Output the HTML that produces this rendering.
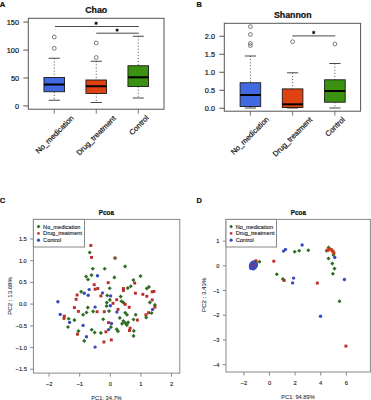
<!DOCTYPE html>
<html><head><meta charset="utf-8"><style>
html,body{margin:0;padding:0;background:#fff;width:371px;height:400px;overflow:hidden}
svg{display:block;font-family:"Liberation Sans", sans-serif}
</style></head><body>
<svg width="371" height="400" viewBox="0 0 371 400">
<rect width="371" height="400" fill="#fff"/>
<rect x="28.3" y="18.3" width="135.7" height="90.9" fill="none" stroke="#555" stroke-width="1.0"/>
<line x1="23.3" y1="22.1" x2="28.3" y2="22.1" stroke="#555" stroke-width="1.0" />
<text x="19.0" y="24.700000000000003" font-size="7.3" text-anchor="end" fill="#1a1a1a" stroke="#1a1a1a" stroke-width="0.22" >150</text>
<line x1="23.3" y1="50.1" x2="28.3" y2="50.1" stroke="#555" stroke-width="1.0" />
<text x="19.0" y="52.7" font-size="7.3" text-anchor="end" fill="#1a1a1a" stroke="#1a1a1a" stroke-width="0.22" >100</text>
<line x1="23.3" y1="78.0" x2="28.3" y2="78.0" stroke="#555" stroke-width="1.0" />
<text x="19.0" y="80.6" font-size="7.3" text-anchor="end" fill="#1a1a1a" stroke="#1a1a1a" stroke-width="0.22" >50</text>
<line x1="23.3" y1="105.9" x2="28.3" y2="105.9" stroke="#555" stroke-width="1.0" />
<text x="19.0" y="108.5" font-size="7.3" text-anchor="end" fill="#1a1a1a" stroke="#1a1a1a" stroke-width="0.22" >0</text>
<line x1="54.25" y1="58.25" x2="54.25" y2="77.5" stroke="#333" stroke-width="0.8" stroke-dasharray="1.1,2"/>
<line x1="54.25" y1="91.75" x2="54.25" y2="100.25" stroke="#333" stroke-width="0.8" stroke-dasharray="1.1,2"/>
<line x1="48.65" y1="58.25" x2="59.85" y2="58.25" stroke="#333" stroke-width="0.9" />
<line x1="48.65" y1="100.25" x2="59.85" y2="100.25" stroke="#333" stroke-width="0.9" />
<rect x="43.95" y="77.5" width="20.6" height="14.25" fill="#4169E1" stroke="#1a1a1a" stroke-width="0.9"/>
<line x1="43.95" y1="84.5" x2="64.55" y2="84.5" stroke="#000" stroke-width="2" />
<circle cx="54.25" cy="37" r="1.9" fill="none" stroke="#444" stroke-width="0.7"/>
<circle cx="54.25" cy="48.25" r="1.9" fill="none" stroke="#444" stroke-width="0.7"/>
<line x1="54.25" y1="109.2" x2="54.25" y2="113.7" stroke="#555" stroke-width="0.8" />
<line x1="96.25" y1="61.25" x2="96.25" y2="80" stroke="#333" stroke-width="0.8" stroke-dasharray="1.1,2"/>
<line x1="96.25" y1="93.5" x2="96.25" y2="102.5" stroke="#333" stroke-width="0.8" stroke-dasharray="1.1,2"/>
<line x1="90.65" y1="61.25" x2="101.85" y2="61.25" stroke="#333" stroke-width="0.9" />
<line x1="90.65" y1="102.5" x2="101.85" y2="102.5" stroke="#333" stroke-width="0.9" />
<rect x="85.95" y="80" width="20.6" height="13.5" fill="#DE4210" stroke="#1a1a1a" stroke-width="0.9"/>
<line x1="85.95" y1="86.25" x2="106.55" y2="86.25" stroke="#000" stroke-width="2" />
<circle cx="96.25" cy="43" r="1.9" fill="none" stroke="#444" stroke-width="0.7"/>
<circle cx="96.25" cy="57.5" r="1.9" fill="none" stroke="#444" stroke-width="0.7"/>
<line x1="96.25" y1="109.2" x2="96.25" y2="113.7" stroke="#555" stroke-width="0.8" />
<line x1="138.25" y1="36.25" x2="138.25" y2="65.75" stroke="#333" stroke-width="0.8" stroke-dasharray="1.1,2"/>
<line x1="138.25" y1="86.5" x2="138.25" y2="98" stroke="#333" stroke-width="0.8" stroke-dasharray="1.1,2"/>
<line x1="132.65" y1="36.25" x2="143.85" y2="36.25" stroke="#333" stroke-width="0.9" />
<line x1="132.65" y1="98" x2="143.85" y2="98" stroke="#333" stroke-width="0.9" />
<rect x="127.95" y="65.75" width="20.6" height="20.75" fill="#3B9210" stroke="#1a1a1a" stroke-width="0.9"/>
<line x1="127.95" y1="77.3" x2="148.55" y2="77.3" stroke="#000" stroke-width="2" />
<line x1="138.25" y1="109.2" x2="138.25" y2="113.7" stroke="#555" stroke-width="0.8" />
<line x1="55" y1="26.5" x2="138.75" y2="26.5" stroke="#333" stroke-width="0.9" />
<circle cx="96.1" cy="23.3" r="1.2" fill="#111"/><g stroke="#111" stroke-width="0.7"><line x1="96.1" y1="21.5" x2="96.1" y2="25.1"/><line x1="94.5" y1="22.400000000000002" x2="97.69999999999999" y2="24.2"/><line x1="94.5" y1="24.2" x2="97.69999999999999" y2="22.400000000000002"/></g>
<line x1="96.25" y1="33.2" x2="138.75" y2="33.2" stroke="#333" stroke-width="0.9" />
<circle cx="117.1" cy="30.1" r="1.2" fill="#111"/><g stroke="#111" stroke-width="0.7"><line x1="117.1" y1="28.3" x2="117.1" y2="31.900000000000002"/><line x1="115.5" y1="29.200000000000003" x2="118.69999999999999" y2="31.0"/><line x1="115.5" y1="31.0" x2="118.69999999999999" y2="29.200000000000003"/></g>
<text x="96.2" y="12.6" font-size="8.8" text-anchor="middle" font-weight="bold" fill="#111" stroke="#111" stroke-width="0.22" >Chao</text>
<text transform="translate(74.25,118.60000000000001) rotate(-45)" font-size="7.5" text-anchor="end" fill="#1a1a1a" stroke="#1a1a1a" stroke-width="0.22">No_medication</text>
<text transform="translate(116.25,118.9) rotate(-45)" font-size="7.5" text-anchor="end" fill="#1a1a1a" stroke="#1a1a1a" stroke-width="0.22">Drug_treatment</text>
<text transform="translate(149.25,118.4) rotate(-45)" font-size="7.5" text-anchor="end" fill="#1a1a1a" stroke="#1a1a1a" stroke-width="0.22">Control</text>
<text x="-0.3" y="6.9" font-size="7.6" text-anchor="start" font-weight="bold" fill="#111" stroke="#111" stroke-width="0.22" >A</text>
<rect x="224.3" y="23.3" width="136.3" height="87.9" fill="none" stroke="#555" stroke-width="1.0"/>
<line x1="219.3" y1="36.25" x2="224.3" y2="36.25" stroke="#555" stroke-width="1.0" />
<text x="215.0" y="38.85" font-size="7.3" text-anchor="end" fill="#1a1a1a" stroke="#1a1a1a" stroke-width="0.22" >2.0</text>
<line x1="219.3" y1="54.25" x2="224.3" y2="54.25" stroke="#555" stroke-width="1.0" />
<text x="215.0" y="56.85" font-size="7.3" text-anchor="end" fill="#1a1a1a" stroke="#1a1a1a" stroke-width="0.22" >1.5</text>
<line x1="219.3" y1="72.25" x2="224.3" y2="72.25" stroke="#555" stroke-width="1.0" />
<text x="215.0" y="74.85" font-size="7.3" text-anchor="end" fill="#1a1a1a" stroke="#1a1a1a" stroke-width="0.22" >1.0</text>
<line x1="219.3" y1="90.25" x2="224.3" y2="90.25" stroke="#555" stroke-width="1.0" />
<text x="215.0" y="92.85" font-size="7.3" text-anchor="end" fill="#1a1a1a" stroke="#1a1a1a" stroke-width="0.22" >0.5</text>
<line x1="219.3" y1="108.25" x2="224.3" y2="108.25" stroke="#555" stroke-width="1.0" />
<text x="215.0" y="110.85" font-size="7.3" text-anchor="end" fill="#1a1a1a" stroke="#1a1a1a" stroke-width="0.22" >0.0</text>
<line x1="250.4" y1="56" x2="250.4" y2="82.75" stroke="#333" stroke-width="0.8" stroke-dasharray="1.1,2"/>
<line x1="250.4" y1="106.5" x2="250.4" y2="108" stroke="#333" stroke-width="0.8" stroke-dasharray="1.1,2"/>
<line x1="244.8" y1="56" x2="256.0" y2="56" stroke="#333" stroke-width="0.9" />
<line x1="244.8" y1="108" x2="256.0" y2="108" stroke="#333" stroke-width="0.9" />
<rect x="240.1" y="82.75" width="20.6" height="23.75" fill="#4169E1" stroke="#1a1a1a" stroke-width="0.9"/>
<line x1="240.1" y1="95" x2="260.7" y2="95" stroke="#000" stroke-width="2" />
<circle cx="250.4" cy="26.6" r="1.9" fill="none" stroke="#444" stroke-width="0.7"/>
<circle cx="250.4" cy="34.5" r="1.9" fill="none" stroke="#444" stroke-width="0.7"/>
<circle cx="250.4" cy="43.4" r="1.9" fill="none" stroke="#444" stroke-width="0.7"/>
<circle cx="250.4" cy="45.6" r="1.9" fill="none" stroke="#444" stroke-width="0.7"/>
<line x1="250.4" y1="111.2" x2="250.4" y2="115.7" stroke="#555" stroke-width="0.8" />
<line x1="292.6" y1="72.8" x2="292.6" y2="88.9" stroke="#333" stroke-width="0.8" stroke-dasharray="1.1,2"/>
<line x1="292.6" y1="107.5" x2="292.6" y2="108" stroke="#333" stroke-width="0.8" stroke-dasharray="1.1,2"/>
<line x1="287.0" y1="72.8" x2="298.20000000000005" y2="72.8" stroke="#333" stroke-width="0.9" />
<line x1="287.0" y1="108" x2="298.20000000000005" y2="108" stroke="#333" stroke-width="0.9" />
<rect x="282.3" y="88.9" width="20.6" height="18.599999999999994" fill="#DE4210" stroke="#1a1a1a" stroke-width="0.9"/>
<line x1="282.3" y1="104.3" x2="302.90000000000003" y2="104.3" stroke="#000" stroke-width="2" />
<circle cx="292.6" cy="41.7" r="1.9" fill="none" stroke="#444" stroke-width="0.7"/>
<line x1="292.6" y1="111.2" x2="292.6" y2="115.7" stroke="#555" stroke-width="0.8" />
<line x1="334.9" y1="63.5" x2="334.9" y2="79.8" stroke="#333" stroke-width="0.8" stroke-dasharray="1.1,2"/>
<line x1="334.9" y1="102.2" x2="334.9" y2="108" stroke="#333" stroke-width="0.8" stroke-dasharray="1.1,2"/>
<line x1="329.29999999999995" y1="63.5" x2="340.5" y2="63.5" stroke="#333" stroke-width="0.9" />
<line x1="329.29999999999995" y1="108" x2="340.5" y2="108" stroke="#333" stroke-width="0.9" />
<rect x="324.59999999999997" y="79.8" width="20.6" height="22.400000000000006" fill="#3B9210" stroke="#1a1a1a" stroke-width="0.9"/>
<line x1="324.59999999999997" y1="91" x2="345.2" y2="91" stroke="#000" stroke-width="2" />
<circle cx="334.9" cy="44" r="1.9" fill="none" stroke="#444" stroke-width="0.7"/>
<line x1="334.9" y1="111.2" x2="334.9" y2="115.7" stroke="#555" stroke-width="0.8" />
<line x1="292.4" y1="35.9" x2="335.3" y2="35.9" stroke="#333" stroke-width="0.9" />
<circle cx="313.7" cy="32.5" r="1.2" fill="#111"/><g stroke="#111" stroke-width="0.7"><line x1="313.7" y1="30.7" x2="313.7" y2="34.3"/><line x1="312.09999999999997" y1="31.6" x2="315.3" y2="33.4"/><line x1="312.09999999999997" y1="33.4" x2="315.3" y2="31.6"/></g>
<text x="292.8" y="18.1" font-size="8.8" text-anchor="middle" font-weight="bold" fill="#111" stroke="#111" stroke-width="0.22" >Shannon</text>
<text transform="translate(269.4,119.7) rotate(-45)" font-size="7.5" text-anchor="end" fill="#1a1a1a" stroke="#1a1a1a" stroke-width="0.22">No_medication</text>
<text transform="translate(312.70000000000005,120.2) rotate(-45)" font-size="7.5" text-anchor="end" fill="#1a1a1a" stroke="#1a1a1a" stroke-width="0.22">Drug_treatment</text>
<text transform="translate(345.4,120.0) rotate(-45)" font-size="7.5" text-anchor="end" fill="#1a1a1a" stroke="#1a1a1a" stroke-width="0.22">Control</text>
<text x="196.5" y="6.5" font-size="7.4" text-anchor="start" font-weight="bold" fill="#111" stroke="#111" stroke-width="0.22" >B</text>
<rect x="89.35" y="244.05" width="2.9" height="2.9" fill="#B82D27"/>
<path d="M89.7 250.45L91.75 252.5L89.7 254.55L87.65 252.5Z" fill="#2E6E23"/>
<rect x="90.05" y="255.95" width="2.9" height="2.9" fill="#B82D27"/>
<path d="M115 255.95L117.05 258L115 260.05L112.95 258Z" fill="#2E6E23"/>
<rect x="113.7" y="256.7" width="3.0" height="3.0" fill="#B82D27" fill-opacity="0.55"/>
<path d="M92.8 266.75L94.85 268.8L92.8 270.85L90.75 268.8Z" fill="#2E6E23"/>
<path d="M104.7 266.75L106.75 268.8L104.7 270.85L102.65 268.8Z" fill="#2E6E23"/>
<path d="M125.1 264.34999999999997L127.14999999999999 266.4L125.1 268.45L123.05 266.4Z" fill="#2E6E23"/>
<path d="M86.1 274.45L88.14999999999999 276.5L86.1 278.55L84.05 276.5Z" fill="#2E6E23"/>
<path d="M91.5 273.05L93.55 275.1L91.5 277.15000000000003L89.45 275.1Z" fill="#2E6E23"/>
<circle cx="97.5" cy="275.8" r="1.7" fill="#384CBE"/>
<path d="M114.4 275.34999999999997L116.45 277.4L114.4 279.45L112.35000000000001 277.4Z" fill="#2E6E23"/>
<path d="M88 277.45L90.05 279.5L88 281.55L85.95 279.5Z" fill="#2E6E23"/>
<path d="M140.5 274.05L142.55 276.1L140.5 278.15000000000003L138.45 276.1Z" fill="#2E6E23"/>
<path d="M133.4 278.05L135.45000000000002 280.1L133.4 282.15000000000003L131.35 280.1Z" fill="#2E6E23"/>
<rect x="133.25" y="281.65000000000003" width="2.9" height="2.9" fill="#B82D27"/>
<path d="M81.1 289.75L83.14999999999999 291.8L81.1 293.85L79.05 291.8Z" fill="#2E6E23"/>
<circle cx="84.2" cy="293.2" r="1.7" fill="#384CBE"/>
<circle cx="89.2" cy="289.6" r="1.7" fill="#384CBE"/>
<circle cx="88.2" cy="295.2" r="1.7" fill="#384CBE"/>
<rect x="75.64999999999999" y="293.55" width="2.9" height="2.9" fill="#B82D27"/>
<rect x="74.64999999999999" y="297.85" width="2.9" height="2.9" fill="#B82D27"/>
<circle cx="57.9" cy="301.7" r="1.7" fill="#384CBE"/>
<rect x="72.95" y="306.15000000000003" width="2.9" height="2.9" fill="#B82D27"/>
<rect x="76.95" y="309.95" width="2.9" height="2.9" fill="#B82D27"/>
<path d="M87.8 305.55L89.85 307.6L87.8 309.65000000000003L85.75 307.6Z" fill="#2E6E23"/>
<path d="M86.5 310.45L88.55 312.5L86.5 314.55L84.45 312.5Z" fill="#2E6E23"/>
<path d="M83.1 312.75L85.14999999999999 314.8L83.1 316.85L81.05 314.8Z" fill="#2E6E23"/>
<circle cx="60.2" cy="314.4" r="1.7" fill="#384CBE"/>
<rect x="62.849999999999994" y="314.65000000000003" width="2.9" height="2.9" fill="#B82D27"/>
<rect x="62.55" y="316.95" width="2.9" height="2.9" fill="#B82D27"/>
<path d="M68.7 316.75L70.75 318.8L68.7 320.85L66.65 318.8Z" fill="#2E6E23"/>
<path d="M74.4 318.05L76.45 320.1L74.4 322.15000000000003L72.35000000000001 320.1Z" fill="#2E6E23"/>
<circle cx="69.6" cy="322.4" r="1.7" fill="#384CBE"/>
<rect x="106.75" y="281.25" width="2.9" height="2.9" fill="#B82D27"/>
<rect x="92.75" y="283.25" width="2.9" height="2.9" fill="#B82D27"/>
<path d="M109.7 286.15L111.75 288.2L109.7 290.25L107.65 288.2Z" fill="#2E6E23"/>
<path d="M127.8 286.05L129.85 288.1L127.8 290.15000000000003L125.75 288.1Z" fill="#2E6E23"/>
<path d="M130.8 284.15L132.85000000000002 286.2L130.8 288.25L128.75 286.2Z" fill="#2E6E23"/>
<rect x="121.95" y="287.05" width="2.9" height="2.9" fill="#B82D27"/>
<rect x="121.95" y="289.05" width="2.9" height="2.9" fill="#B82D27"/>
<rect x="93.64999999999999" y="287.75" width="2.9" height="2.9" fill="#B82D27"/>
<rect x="96.35" y="287.05" width="2.9" height="2.9" fill="#B82D27"/>
<circle cx="102.5" cy="292.9" r="1.7" fill="#384CBE"/>
<rect x="99.45" y="294.45" width="2.9" height="2.9" fill="#B82D27"/>
<path d="M107.2 293.45L109.25 295.5L107.2 297.55L105.15 295.5Z" fill="#2E6E23"/>
<circle cx="110.6" cy="295.9" r="1.7" fill="#384CBE"/>
<path d="M120.7 294.55L122.75 296.6L120.7 298.65000000000003L118.65 296.6Z" fill="#2E6E23"/>
<path d="M109.9 297.84999999999997L111.95 299.9L109.9 301.95L107.85000000000001 299.9Z" fill="#2E6E23"/>
<rect x="115.25" y="298.25" width="2.9" height="2.9" fill="#B82D27"/>
<path d="M106.8 300.55L108.85 302.6L106.8 304.65000000000003L104.75 302.6Z" fill="#2E6E23"/>
<rect x="111.55" y="301.85" width="2.9" height="2.9" fill="#B82D27"/>
<path d="M121.4 299.25L123.45 301.3L121.4 303.35L119.35000000000001 301.3Z" fill="#2E6E23"/>
<path d="M123.4 300.55L125.45 302.6L123.4 304.65000000000003L121.35000000000001 302.6Z" fill="#2E6E23"/>
<rect x="123.75" y="302.95" width="2.9" height="2.9" fill="#B82D27"/>
<path d="M106.6 303.95L108.64999999999999 306L106.6 308.05L104.55 306Z" fill="#2E6E23"/>
<circle cx="110.3" cy="305.7" r="1.7" fill="#384CBE"/>
<rect x="127.74999999999999" y="305.85" width="2.9" height="2.9" fill="#B82D27"/>
<circle cx="95.1" cy="307.1" r="1.7" fill="#384CBE"/>
<path d="M93.1 309.34999999999997L95.14999999999999 311.4L93.1 313.45L91.05 311.4Z" fill="#2E6E23"/>
<rect x="95.64999999999999" y="310.25" width="2.9" height="2.9" fill="#B82D27"/>
<rect x="102.85" y="310.25" width="2.9" height="2.9" fill="#B82D27"/>
<path d="M109 309.05L111.05 311.1L109 313.15000000000003L106.95 311.1Z" fill="#2E6E23"/>
<rect x="116.55" y="307.95" width="2.9" height="2.9" fill="#B82D27"/>
<circle cx="116.9" cy="312.1" r="1.7" fill="#384CBE"/>
<path d="M125.2 310.65L127.25 312.7L125.2 314.75L123.15 312.7Z" fill="#2E6E23"/>
<path d="M127 312.75L129.05 314.8L127 316.85L124.95 314.8Z" fill="#2E6E23"/>
<path d="M119.8 315.84999999999997L121.85 317.9L119.8 319.95L117.75 317.9Z" fill="#2E6E23"/>
<path d="M103.2 317.15L105.25 319.2L103.2 321.25L101.15 319.2Z" fill="#2E6E23"/>
<path d="M123.4 319.05L125.45 321.1L123.4 323.15000000000003L121.35000000000001 321.1Z" fill="#2E6E23"/>
<path d="M125.4 321.05L127.45 323.1L125.4 325.15000000000003L123.35000000000001 323.1Z" fill="#2E6E23"/>
<path d="M128.1 320.34999999999997L130.15 322.4L128.1 324.45L126.05 322.4Z" fill="#2E6E23"/>
<path d="M122.1 321.75L124.14999999999999 323.8L122.1 325.85L120.05 323.8Z" fill="#2E6E23"/>
<path d="M126.8 323.05L128.85 325.1L126.8 327.15000000000003L124.75 325.1Z" fill="#2E6E23"/>
<path d="M133.5 317.45L135.55 319.5L133.5 321.55L131.45 319.5Z" fill="#2E6E23"/>
<rect x="107.14999999999999" y="321.15000000000003" width="2.9" height="2.9" fill="#B82D27"/>
<circle cx="111.5" cy="323.5" r="1.7" fill="#384CBE"/>
<path d="M146.8 286.45L148.85000000000002 288.5L146.8 290.55L144.75 288.5Z" fill="#2E6E23"/>
<path d="M148.9 284.84999999999997L150.95000000000002 286.9L148.9 288.95L146.85 286.9Z" fill="#2E6E23"/>
<rect x="133.95000000000002" y="291.75" width="2.9" height="2.9" fill="#B82D27"/>
<rect x="141.35000000000002" y="292.85" width="2.9" height="2.9" fill="#B82D27"/>
<rect x="145.35000000000002" y="294.85" width="2.9" height="2.9" fill="#B82D27"/>
<rect x="150.75" y="290.35" width="2.9" height="2.9" fill="#B82D27"/>
<rect x="152.55" y="289.95" width="2.9" height="2.9" fill="#B82D27"/>
<rect x="150.75" y="298.45" width="2.9" height="2.9" fill="#B82D27"/>
<path d="M149.9 300.34999999999997L151.95000000000002 302.4L149.9 304.45L147.85 302.4Z" fill="#2E6E23"/>
<path d="M154.9 302.84999999999997L156.95000000000002 304.9L154.9 306.95L152.85 304.9Z" fill="#2E6E23"/>
<rect x="153.45000000000002" y="305.65000000000003" width="2.9" height="2.9" fill="#B82D27"/>
<circle cx="152.6" cy="309.4" r="1.7" fill="#384CBE"/>
<rect x="147.15" y="311.25" width="2.9" height="2.9" fill="#B82D27"/>
<rect x="144.45000000000002" y="313.35" width="2.9" height="2.9" fill="#B82D27"/>
<path d="M151.6 310.95L153.65 313L151.6 315.05L149.54999999999998 313Z" fill="#2E6E23"/>
<path d="M146.2 315.45L148.25 317.5L146.2 319.55L144.14999999999998 317.5Z" fill="#2E6E23"/>
<path d="M135.7 312.75L137.75 314.8L135.7 316.85L133.64999999999998 314.8Z" fill="#2E6E23"/>
<rect x="135.95000000000002" y="318.65000000000003" width="2.9" height="2.9" fill="#B82D27"/>
<path d="M68 324.95L70.05 327L68 329.05L65.95 327Z" fill="#2E6E23"/>
<circle cx="83.1" cy="325.4" r="1.7" fill="#384CBE"/>
<path d="M78.4 329.05L80.45 331.1L78.4 333.15000000000003L76.35000000000001 331.1Z" fill="#2E6E23"/>
<rect x="76.05" y="332.75" width="2.9" height="2.9" fill="#B82D27"/>
<circle cx="86.5" cy="336.8" r="1.7" fill="#384CBE"/>
<path d="M84.2 338.84999999999997L86.25 340.9L84.2 342.95L82.15 340.9Z" fill="#2E6E23"/>
<path d="M110.9 325.05L112.95 327.1L110.9 329.15000000000003L108.85000000000001 327.1Z" fill="#2E6E23"/>
<circle cx="108.6" cy="329.6" r="1.7" fill="#384CBE"/>
<rect x="104.45" y="330.35" width="2.9" height="2.9" fill="#B82D27"/>
<path d="M116.7 327.15L118.75 329.2L116.7 331.25L114.65 329.2Z" fill="#2E6E23"/>
<path d="M118 329.15L120.05 331.2L118 333.25L115.95 331.2Z" fill="#2E6E23"/>
<path d="M91.7 327.75L93.75 329.8L91.7 331.85L89.65 329.8Z" fill="#2E6E23"/>
<path d="M94.7 330.45L96.75 332.5L94.7 334.55L92.65 332.5Z" fill="#2E6E23"/>
<path d="M100.9 330.84999999999997L102.95 332.9L100.9 334.95L98.85000000000001 332.9Z" fill="#2E6E23"/>
<rect x="128.65" y="326.75" width="2.9" height="2.9" fill="#B82D27"/>
<rect x="128.05" y="329.05" width="2.9" height="2.9" fill="#B82D27"/>
<path d="M133.8 328.84999999999997L135.85000000000002 330.9L133.8 332.95L131.75 330.9Z" fill="#2E6E23"/>
<path d="M133.5 333.84999999999997L135.55 335.9L133.5 337.95L131.45 335.9Z" fill="#2E6E23"/>
<rect x="102.45" y="340.55" width="2.9" height="2.9" fill="#B82D27"/>
<rect x="109.85" y="338.45" width="2.9" height="2.9" fill="#B82D27"/>
<circle cx="95.1" cy="347.1" r="1.7" fill="#384CBE"/>
<rect x="33.4" y="219.4" width="146.4" height="153.70000000000002" fill="none" stroke="#888" stroke-width="1.0"/>
<line x1="30.2" y1="239" x2="33.4" y2="239" stroke="#888" stroke-width="1" />
<text x="26.799999999999997" y="241" font-size="5.7" text-anchor="end" fill="#1a1a1a" stroke="#1a1a1a" stroke-width="0.12" >1.5</text>
<line x1="30.2" y1="260.7" x2="33.4" y2="260.7" stroke="#888" stroke-width="1" />
<text x="26.799999999999997" y="262.7" font-size="5.7" text-anchor="end" fill="#1a1a1a" stroke="#1a1a1a" stroke-width="0.12" >1.0</text>
<line x1="30.2" y1="282.4" x2="33.4" y2="282.4" stroke="#888" stroke-width="1" />
<text x="26.799999999999997" y="284.4" font-size="5.7" text-anchor="end" fill="#1a1a1a" stroke="#1a1a1a" stroke-width="0.12" >0.5</text>
<line x1="30.2" y1="304.1" x2="33.4" y2="304.1" stroke="#888" stroke-width="1" />
<text x="26.799999999999997" y="306.1" font-size="5.7" text-anchor="end" fill="#1a1a1a" stroke="#1a1a1a" stroke-width="0.12" >0.0</text>
<line x1="30.2" y1="325.8" x2="33.4" y2="325.8" stroke="#888" stroke-width="1" />
<text x="26.799999999999997" y="327.8" font-size="5.7" text-anchor="end" fill="#1a1a1a" stroke="#1a1a1a" stroke-width="0.12" >−0.5</text>
<line x1="30.2" y1="347.5" x2="33.4" y2="347.5" stroke="#888" stroke-width="1" />
<text x="26.799999999999997" y="349.5" font-size="5.7" text-anchor="end" fill="#1a1a1a" stroke="#1a1a1a" stroke-width="0.12" >−1.0</text>
<line x1="30.2" y1="369.2" x2="33.4" y2="369.2" stroke="#888" stroke-width="1" />
<text x="26.799999999999997" y="371.2" font-size="5.7" text-anchor="end" fill="#1a1a1a" stroke="#1a1a1a" stroke-width="0.12" >−1.5</text>
<line x1="49.1" y1="373.1" x2="49.1" y2="376.6" stroke="#888" stroke-width="1" />
<text x="49.1" y="386.1" font-size="5.8" text-anchor="middle" fill="#1a1a1a" stroke="#1a1a1a" stroke-width="0.12" >−2</text>
<line x1="79.7" y1="373.1" x2="79.7" y2="376.6" stroke="#888" stroke-width="1" />
<text x="79.7" y="386.1" font-size="5.8" text-anchor="middle" fill="#1a1a1a" stroke="#1a1a1a" stroke-width="0.12" >−1</text>
<line x1="110.3" y1="373.1" x2="110.3" y2="376.6" stroke="#888" stroke-width="1" />
<text x="110.3" y="386.1" font-size="5.8" text-anchor="middle" fill="#1a1a1a" stroke="#1a1a1a" stroke-width="0.12" >0</text>
<line x1="140.9" y1="373.1" x2="140.9" y2="376.6" stroke="#888" stroke-width="1" />
<text x="140.9" y="386.1" font-size="5.8" text-anchor="middle" fill="#1a1a1a" stroke="#1a1a1a" stroke-width="0.12" >1</text>
<line x1="171.5" y1="373.1" x2="171.5" y2="376.6" stroke="#888" stroke-width="1" />
<text x="171.5" y="386.1" font-size="5.8" text-anchor="middle" fill="#1a1a1a" stroke="#1a1a1a" stroke-width="0.12" >2</text>
<text x="106.4" y="214.9" font-size="6.3" text-anchor="middle" font-weight="bold" fill="#111" stroke="#111" stroke-width="0.22" >Pcoa</text>
<text x="106.5" y="399.5" font-size="5.7" text-anchor="middle" fill="#1a1a1a" stroke="#1a1a1a" stroke-width="0.05" >PC1: 34.7%</text>
<text transform="translate(12.3,295.9) rotate(-90)" font-size="6.1" text-anchor="middle" fill="#1a1a1a" stroke="#1a1a1a" stroke-width="0.05">PC2 : 13.68%</text>
<rect x="33.4" y="219.4" width="51.1" height="27.599999999999994" fill="#fff" stroke="#888" stroke-width="1.0"/>
<path d="M38.5 224.7L40.4 226.6L38.5 228.5L36.6 226.6Z" fill="#2E6E23"/>
<text x="43.099999999999994" y="228.6" font-size="5.6" text-anchor="start" fill="#1a1a1a" stroke="#1a1a1a" stroke-width="0.12" >No_medication</text>
<rect x="37.3" y="232.20000000000002" width="2.4" height="2.4" fill="#B82D27"/>
<text x="43.099999999999994" y="235.4" font-size="5.6" text-anchor="start" fill="#1a1a1a" stroke="#1a1a1a" stroke-width="0.12" >Drug_treatment</text>
<circle cx="38.5" cy="240.2" r="1.6" fill="#384CBE"/>
<text x="43.099999999999994" y="242.2" font-size="5.6" text-anchor="start" fill="#1a1a1a" stroke="#1a1a1a" stroke-width="0.12" >Control</text>
<text x="-0.2" y="202.9" font-size="7.6" text-anchor="start" font-weight="bold" fill="#111" stroke="#111" stroke-width="0.22" >C</text>
<ellipse cx="253.4" cy="265.3" rx="4.3" ry="5.2" transform="rotate(35 253.4 265.3)" fill="#384CBE"/>
<circle cx="251" cy="268.3" r="1.7" fill="#384CBE"/>
<circle cx="250.8" cy="265.5" r="1.7" fill="#384CBE"/>
<circle cx="252.3" cy="262.8" r="1.7" fill="#384CBE"/>
<circle cx="254.8" cy="262" r="1.7" fill="#384CBE"/>
<circle cx="256.2" cy="263.8" r="1.7" fill="#384CBE"/>
<circle cx="255.8" cy="266.8" r="1.7" fill="#384CBE"/>
<circle cx="253.8" cy="268.8" r="1.7" fill="#384CBE"/>
<rect x="251.3" y="264.0" width="3.0" height="3.0" fill="#B82D27" fill-opacity="0.55"/>
<rect x="254.55" y="259.35" width="2.9" height="2.9" fill="#B82D27"/>
<path d="M259.5 259.75L261.55 261.8L259.5 263.85L257.45 261.8Z" fill="#2E6E23"/>
<rect x="272.35" y="259.75" width="2.9" height="2.9" fill="#B82D27"/>
<path d="M276.8 272.15L278.85 274.2L276.8 276.25L274.75 274.2Z" fill="#2E6E23"/>
<path d="M282.8 277.05L284.85 279.1L282.8 281.15000000000003L280.75 279.1Z" fill="#2E6E23"/>
<rect x="282.75" y="278.95" width="2.9" height="2.9" fill="#B82D27"/>
<circle cx="293.6" cy="278.1" r="1.7" fill="#384CBE"/>
<circle cx="292.6" cy="282.9" r="1.7" fill="#384CBE"/>
<rect x="315.85" y="281.65000000000003" width="2.9" height="2.9" fill="#B82D27"/>
<circle cx="283.5" cy="251.1" r="1.7" fill="#384CBE"/>
<circle cx="285.5" cy="249.4" r="1.7" fill="#384CBE"/>
<path d="M294.7 249.64999999999998L296.75 251.7L294.7 253.75L292.65 251.7Z" fill="#2E6E23"/>
<path d="M299.2 248.75L301.25 250.8L299.2 252.85000000000002L297.15 250.8Z" fill="#2E6E23"/>
<circle cx="302.1" cy="245" r="1.7" fill="#384CBE"/>
<path d="M308.3 248.14999999999998L310.35 250.2L308.3 252.25L306.25 250.2Z" fill="#2E6E23"/>
<path d="M328.6 245.54999999999998L330.65000000000003 247.6L328.6 249.65L326.55 247.6Z" fill="#2E6E23"/>
<path d="M326.6 248.75L328.65000000000003 250.8L326.6 252.85000000000002L324.55 250.8Z" fill="#2E6E23"/>
<path d="M333.4 252.95L335.45 255L333.4 257.05L331.34999999999997 255Z" fill="#2E6E23"/>
<rect x="325.79999999999995" y="248.70000000000002" width="3.2" height="3.2" fill="#C23A1A"/>
<rect x="327.59999999999997" y="247.5" width="3.2" height="3.2" fill="#C23A1A"/>
<rect x="329.59999999999997" y="248.1" width="3.2" height="3.2" fill="#C23A1A"/>
<rect x="331.2" y="249.6" width="3.2" height="3.2" fill="#C23A1A"/>
<rect x="332.2" y="251.4" width="3.2" height="3.2" fill="#C23A1A"/>
<circle cx="334.8" cy="257.5" r="1.7" fill="#384CBE"/>
<path d="M328.5 256.45L330.55 258.5L328.5 260.55L326.45 258.5Z" fill="#2E6E23"/>
<path d="M332.3 261.55L334.35 263.6L332.3 265.65000000000003L330.25 263.6Z" fill="#2E6E23"/>
<path d="M334.5 266.55L336.55 268.6L334.5 270.65000000000003L332.45 268.6Z" fill="#2E6E23"/>
<path d="M332.9 271.65L334.95 273.7L332.9 275.75L330.84999999999997 273.7Z" fill="#2E6E23"/>
<circle cx="344.4" cy="279.5" r="1.7" fill="#384CBE"/>
<path d="M339.5 299.2L341.55 301.25L339.5 303.3L337.45 301.25Z" fill="#2E6E23"/>
<circle cx="320.5" cy="316.25" r="1.7" fill="#384CBE"/>
<rect x="344.45" y="344.65000000000003" width="2.9" height="2.9" fill="#B82D27"/>
<rect x="226.0" y="219.4" width="144.39999999999998" height="152.6" fill="none" stroke="#888" stroke-width="1.0"/>
<line x1="222.8" y1="241.1" x2="226.0" y2="241.1" stroke="#888" stroke-width="1" />
<text x="219.4" y="243.1" font-size="5.7" text-anchor="end" fill="#1a1a1a" stroke="#1a1a1a" stroke-width="0.12" >1</text>
<line x1="222.8" y1="265.8" x2="226.0" y2="265.8" stroke="#888" stroke-width="1" />
<text x="219.4" y="267.8" font-size="5.7" text-anchor="end" fill="#1a1a1a" stroke="#1a1a1a" stroke-width="0.12" >0</text>
<line x1="222.8" y1="290.5" x2="226.0" y2="290.5" stroke="#888" stroke-width="1" />
<text x="219.4" y="292.5" font-size="5.7" text-anchor="end" fill="#1a1a1a" stroke="#1a1a1a" stroke-width="0.12" >−1</text>
<line x1="222.8" y1="315.2" x2="226.0" y2="315.2" stroke="#888" stroke-width="1" />
<text x="219.4" y="317.2" font-size="5.7" text-anchor="end" fill="#1a1a1a" stroke="#1a1a1a" stroke-width="0.12" >−2</text>
<line x1="222.8" y1="339.9" x2="226.0" y2="339.9" stroke="#888" stroke-width="1" />
<text x="219.4" y="341.9" font-size="5.7" text-anchor="end" fill="#1a1a1a" stroke="#1a1a1a" stroke-width="0.12" >−3</text>
<line x1="222.8" y1="364.6" x2="226.0" y2="364.6" stroke="#888" stroke-width="1" />
<text x="219.4" y="366.6" font-size="5.7" text-anchor="end" fill="#1a1a1a" stroke="#1a1a1a" stroke-width="0.12" >−4</text>
<line x1="243.9" y1="372.0" x2="243.9" y2="375.5" stroke="#888" stroke-width="1" />
<text x="243.9" y="385.0" font-size="5.8" text-anchor="middle" fill="#1a1a1a" stroke="#1a1a1a" stroke-width="0.12" >−2</text>
<line x1="269.5" y1="372.0" x2="269.5" y2="375.5" stroke="#888" stroke-width="1" />
<text x="269.5" y="385.0" font-size="5.8" text-anchor="middle" fill="#1a1a1a" stroke="#1a1a1a" stroke-width="0.12" >0</text>
<line x1="295.1" y1="372.0" x2="295.1" y2="375.5" stroke="#888" stroke-width="1" />
<text x="295.1" y="385.0" font-size="5.8" text-anchor="middle" fill="#1a1a1a" stroke="#1a1a1a" stroke-width="0.12" >2</text>
<line x1="320.7" y1="372.0" x2="320.7" y2="375.5" stroke="#888" stroke-width="1" />
<text x="320.7" y="385.0" font-size="5.8" text-anchor="middle" fill="#1a1a1a" stroke="#1a1a1a" stroke-width="0.12" >4</text>
<line x1="346.3" y1="372.0" x2="346.3" y2="375.5" stroke="#888" stroke-width="1" />
<text x="346.3" y="385.0" font-size="5.8" text-anchor="middle" fill="#1a1a1a" stroke="#1a1a1a" stroke-width="0.12" >6</text>
<text x="298.4" y="215.1" font-size="6.3" text-anchor="middle" font-weight="bold" fill="#111" stroke="#111" stroke-width="0.22" >Pcoa</text>
<text x="298" y="398.6" font-size="5.7" text-anchor="middle" fill="#1a1a1a" stroke="#1a1a1a" stroke-width="0.05" >PC1: 94.89%</text>
<text transform="translate(206,294.8) rotate(-90)" font-size="6.1" text-anchor="middle" fill="#1a1a1a" stroke="#1a1a1a" stroke-width="0.05">PC2 : 3.43%</text>
<rect x="226.0" y="219.4" width="50.5" height="27.599999999999994" fill="#fff" stroke="#888" stroke-width="1.0"/>
<path d="M231.1 224.7L233.0 226.6L231.1 228.5L229.2 226.6Z" fill="#2E6E23"/>
<text x="235.7" y="228.6" font-size="5.6" text-anchor="start" fill="#1a1a1a" stroke="#1a1a1a" stroke-width="0.12" >No_medication</text>
<rect x="229.9" y="232.20000000000002" width="2.4" height="2.4" fill="#B82D27"/>
<text x="235.7" y="235.4" font-size="5.6" text-anchor="start" fill="#1a1a1a" stroke="#1a1a1a" stroke-width="0.12" >Drug_treatment</text>
<circle cx="231.1" cy="240.2" r="1.6" fill="#384CBE"/>
<text x="235.7" y="242.2" font-size="5.6" text-anchor="start" fill="#1a1a1a" stroke="#1a1a1a" stroke-width="0.12" >Control</text>
<text x="196.4" y="202.6" font-size="7.5" text-anchor="start" font-weight="bold" fill="#111" stroke="#111" stroke-width="0.22" >D</text>
</svg></body></html>
